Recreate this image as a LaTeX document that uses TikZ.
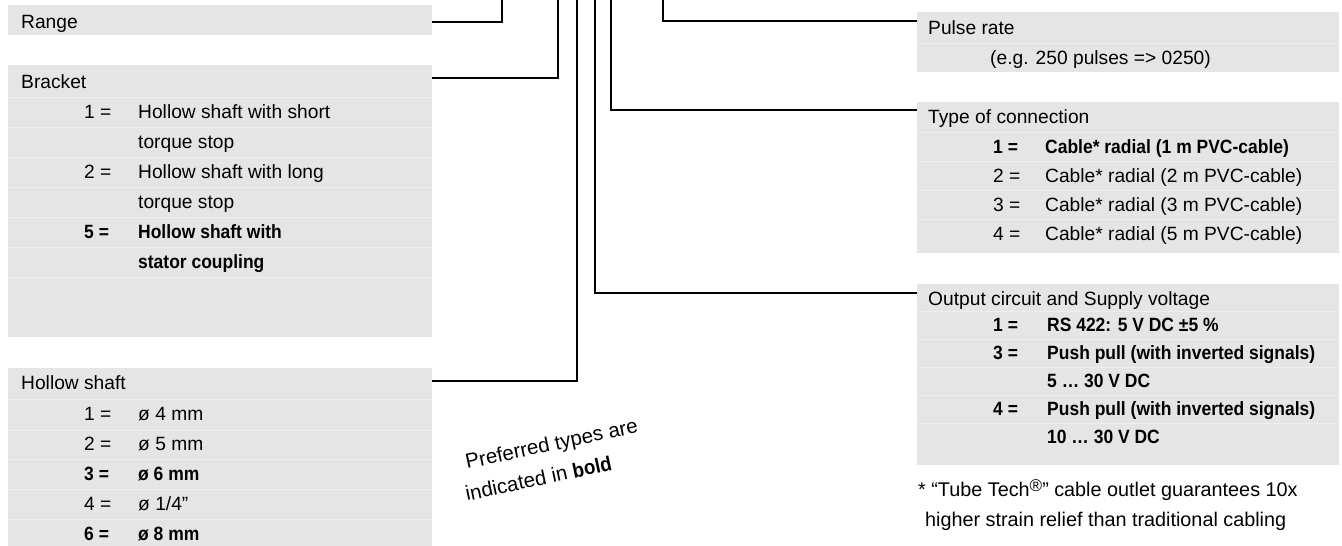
\documentclass[tikz,border=0pt]{standalone}
\usepackage{fontspec}
\setmainfont{Liberation Sans}[BoldFeatures={FakeStretch=0.91}]
\definecolor{boxgray}{HTML}{E5E5E5}
\definecolor{sepgray}{HTML}{EEEEEE}
\newcommand{\tfont}{\fontsize{19.2}{23}\selectfont}
\newcommand{\ffont}{\fontsize{19.8}{24}\selectfont}
\begin{document}
\begin{tikzpicture}[x=1pt,y=-1pt,
  infobox/.style={fill=boxgray, draw=none, inner sep=0pt, anchor=north west},
  sepline/.style={draw=sepgray, line width=1pt},
  txt/.style={anchor=west, inner sep=0pt, text height=13.6pt, text depth=0pt, font=\tfont},
  conn/.style={draw=black, line width=2.4pt}]
\useasboundingbox (0,0) rectangle (1342,546);

% boxes
\node[infobox, minimum width=424pt, minimum height=30pt]  (range)   at (8,5)   {};
\node[infobox, minimum width=424pt, minimum height=272pt] (bracket) at (8,65)  {};
\node[infobox, minimum width=424pt, minimum height=178pt] (hollow)  at (8,368) {};
\node[infobox, minimum width=422pt, minimum height=60pt]  (pulse)   at (917,12)  {};
\node[infobox, minimum width=422pt, minimum height=151pt] (conntype) at (917,102) {};
\node[infobox, minimum width=422pt, minimum height=181pt] (output)  at (917,284) {};

% row separators
\foreach \y in {97,127,157,187,217,247,277}
  \draw[sepline] (bracket.west |- 0,\y) -- (bracket.east |- 0,\y);
\foreach \y in {399,430,459,489,519}
  \draw[sepline] (hollow.west |- 0,\y) -- (hollow.east |- 0,\y);
\draw[sepline] (pulse.west |- 0,43) -- (pulse.east |- 0,43);
\foreach \y in {132,161,190,219}
  \draw[sepline] (conntype.west |- 0,\y) -- (conntype.east |- 0,\y);
\foreach \y in {311,339,367,395,423}
  \draw[sepline] (output.west |- 0,\y) -- (output.east |- 0,\y);

% left texts
\node[txt] (rangeT) at (21,22) {Range};

\node[txt] (brT) at (21,82) {Bracket};
\node[txt] (br1n) at (84,112) {1 =};
\node[txt] (br1t) at (138,112) {Hollow shaft with short};
\node[txt] (br1u) at (138,142) {torque stop};
\node[txt] (br2n) at (84,172) {2 =};
\node[txt] (br2t) at (138,172) {Hollow shaft with long};
\node[txt] (br2u) at (138,202) {torque stop};
\node[txt] (br5n) at (84,232) {\bfseries 5 =};
\node[txt] (br5t) at (138,232) {\bfseries Hollow shaft with};
\node[txt] (br5u) at (138,262) {\bfseries stator coupling};

\node[txt] (hsT) at (21,383) {Hollow shaft};
\node[txt] (hs1n) at (84,414) {1 =};
\node[txt] (hs1t) at (138,414) {ø 4 mm};
\node[txt] (hs2n) at (84,444) {2 =};
\node[txt] (hs2t) at (138,444) {ø 5 mm};
\node[txt] (hs3n) at (84,474) {\bfseries 3 =};
\node[txt] (hs3t) at (138,474) {\bfseries ø 6 mm};
\node[txt] (hs4n) at (84,504) {4 =};
\node[txt] (hs4t) at (138,504) {ø 1/4”};
\node[txt] (hs6n) at (84,534) {\bfseries 6 =};
\node[txt] (hs6t) at (138,534) {\bfseries ø 8 mm};

% right texts
\node[txt] (prT) at (928,28) {Pulse rate};
\node[txt] (prS) at (990,58) {(e.g. 250 pulses => 0250)};

\node[txt] (ctT) at (928,117) {Type of connection};
\node[txt] (ct1n) at (993,147) {\bfseries 1 =};
\node[txt] (ct1t) at (1045,147) {\bfseries Cable* radial (1 m PVC-cable)};
\node[txt] (ct2n) at (993,176) {2 =};
\node[txt] (ct2t) at (1045,176) {Cable* radial (2 m PVC-cable)};
\node[txt] (ct3n) at (993,205) {3 =};
\node[txt] (ct3t) at (1045,205) {Cable* radial (3 m PVC-cable)};
\node[txt] (ct4n) at (993,234) {4 =};
\node[txt] (ct4t) at (1045,234) {Cable* radial (5 m PVC-cable)};

\node[txt] (ocT) at (928,299) {Output circuit and Supply voltage};
\node[txt] (oc1n) at (993,325) {\bfseries 1 =};
\node[txt] (oc1t) at (1047,325) {\bfseries RS 422: 5 V DC ±5 \%};
\node[txt] (oc3n) at (993,353) {\bfseries 3 =};
\node[txt] (oc3t) at (1047,353) {\bfseries Push pull (with inverted signals)};
\node[txt] (oc3u) at (1047,381) {\bfseries 5 … 30 V DC};
\node[txt] (oc4n) at (993,409) {\bfseries 4 =};
\node[txt] (oc4t) at (1047,409) {\bfseries Push pull (with inverted signals)};
\node[txt] (oc4u) at (1047,437) {\bfseries 10 … 30 V DC};

% footnote
\node[txt, font=\ffont] (fn1) at (918,490) {* “Tube Tech\raisebox{0.55ex}{\fontsize{17}{17}\selectfont ®}” cable outlet guarantees 10x};
\node[txt, font=\ffont] (fn2) at (925,520) {higher strain relief than traditional cabling};

% preferred note
\node[anchor=base west, inner sep=0pt, rotate=12, font=\fontsize{20.5}{24}\selectfont] (pref1) at (467,469) {Preferred types are};
\node[anchor=base west, inner sep=0pt, rotate=12, font=\fontsize{20.5}{24}\selectfont] (pref2) at (467,501) {indicated in \textbf{bold}};

% connector top ends
\coordinate (t1) at (502,0);
\coordinate (t2) at (558,0);
\coordinate (t3) at (577,0);
\coordinate (t4) at (595,0);
\coordinate (t5) at (611,0);
\coordinate (t6) at (663,0);

% connectors
\draw[conn] ([yshift=-17pt]range.north east) -| (t1);
\draw[conn] ([yshift=-13pt]bracket.north east) -| (t2);
\draw[conn] ([yshift=-13pt]hollow.north east) -| (t3);
\draw[conn] ([yshift=-9pt]output.north west) -| (t4);
\draw[conn] ([yshift=-8pt]conntype.north west) -| (t5);
\draw[conn] ([yshift=-9pt]pulse.north west) -| (t6);
\end{tikzpicture}
\end{document}
